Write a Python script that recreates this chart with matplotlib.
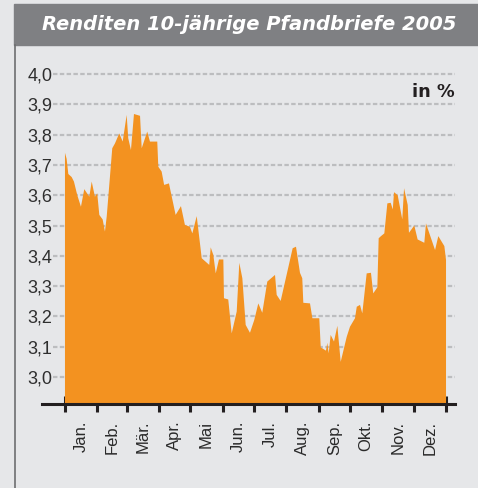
import matplotlib
matplotlib.use("Agg")
import matplotlib.pyplot as plt
from matplotlib.patches import Rectangle
from matplotlib.lines import Line2D

plt.rcParams['lines.scale_dashes'] = False

TITLE = "Renditen 10-jährige Pfandbriefe 2005"
UNIT = "in %"

months = ["Jan.", "Feb.", "Mär.", "Apr.", "Mai", "Jun.", "Jul.", "Aug.",
          "Sep.", "Okt.", "Nov.", "Dez."]
month_starts = [0, 31, 59, 90, 120, 151, 181, 212, 243, 273, 304, 334, 365]
y_ticks = [3.0, 3.1, 3.2, 3.3, 3.4, 3.5, 3.6, 3.7, 3.8, 3.9, 4.0]

# day of year / yield in %
days = [0, 1.6, 3.2, 6.4, 8.6, 11.8, 15.3, 18.5, 23.3, 25.6, 28.7, 30.9,
        32.9, 36.1, 38.3, 40.0, 45.3, 47.9, 52.0, 55.3, 59.1, 60.6, 63.2,
        66.1, 71.9, 73.5, 78.8, 81.4, 88.4, 89.4, 92.6, 95.0, 99.6, 106.0,
        111.1, 114.9, 119.7, 122.0, 126.2, 131.0, 138.2, 139.6, 142.1,
        144.4, 147.5, 151.7, 152.3, 156.4, 159.7, 164.5, 167.0, 169.9,
        173.1, 177.2, 181.3, 185.2, 189.0, 193.8, 201.2, 202.8, 206.6,
        218.1, 221.3, 225.1, 227.3, 228.3, 234.7, 237.0, 243.6, 245.0,
        250.0, 251.3, 252.6, 254.5, 257.7, 260.9, 264.1, 269.9, 273.0,
        277.8, 279.5, 282.6, 284.8, 289.0, 293.1, 295.3, 299.2, 300.5,
        302.7, 305.9, 308.8, 312.0, 314.0, 315.2, 318.7, 323.1, 324.8,
        328.3, 329.5, 334.6, 337.8, 344.2, 345.8, 354.5, 357.6, 363.4, 365]
values = [3.74, 3.72, 3.67, 3.66, 3.645, 3.60, 3.562, 3.62, 3.595, 3.645,
          3.595, 3.606, 3.535, 3.52, 3.48, 3.53, 3.755, 3.771, 3.804, 3.777,
          3.865, 3.788, 3.749, 3.868, 3.862, 3.755, 3.81, 3.777, 3.777,
          3.694, 3.678, 3.634, 3.639, 3.535, 3.564, 3.502, 3.496, 3.474,
          3.531, 3.392, 3.37, 3.428, 3.403, 3.342, 3.388, 3.388, 3.26, 3.256,
          3.144, 3.216, 3.377, 3.326, 3.172, 3.146, 3.188, 3.243, 3.212,
          3.315, 3.337, 3.271, 3.251, 3.425, 3.43, 3.344, 3.326, 3.245,
          3.243, 3.194, 3.194, 3.098, 3.087, 3.113, 3.078, 3.139, 3.117,
          3.169, 3.05, 3.133, 3.166, 3.194, 3.232, 3.238, 3.21, 3.342, 3.344,
          3.276, 3.296, 3.458, 3.465, 3.474, 3.573, 3.575, 3.553, 3.61, 3.60,
          3.52, 3.623, 3.568, 3.476, 3.50, 3.454, 3.443, 3.507, 3.419, 3.465,
          3.432, 3.386]

BG = "#e6e7e9"
ORANGE = "#f39220"
DARK = "#231f20"
NARROW = ["Liberation Sans Narrow", "Liberation Sans", "DejaVu Sans"]

fig = plt.figure(figsize=(4.78, 4.88), dpi=100, facecolor=BG)
W, H = 478, 488

# title bar and left rule
fig.patches.append(Rectangle((14 / W, 1 - 45 / H), 1 - 14 / W, 41 / H,
                             transform=fig.transFigure, color="#7f8083", zorder=0))
fig.text(249 / W, 1 - 24 / H, TITLE, color="white", fontsize=14,
         fontweight="bold", fontstyle="italic", ha="center", va="center",
         family="DejaVu Sans")
fig.lines.append(Line2D([15 / W, 15 / W], [0, 1 - 45 / H], transform=fig.transFigure,
                        color="#6d6e70", lw=1.2))

xmin, xmax = -22.0, 373.6
ymin, ymax = 2.911, 4.05
ax = fig.add_axes([42 / W, 84 / H, 413 / W, (404 - 58.85) / H])
ax.set_facecolor(BG)
ax.set_xlim(xmin, xmax)
ax.set_ylim(ymin, ymax)

ax.hlines(y_ticks, -11.5, xmax, colors="#bcbdbf", lw=1.6,
          linestyles=(0, (3.2, 1.7)), zorder=1)
ax.fill_between(days, values, 2.0, color=ORANGE, lw=0, zorder=2)

for s in ["top", "right", "left"]:
    ax.spines[s].set_visible(False)
ax.spines["bottom"].set_color(DARK)
ax.spines["bottom"].set_linewidth(2.2)
ax.spines["bottom"].set_zorder(3)

ax.set_yticks(y_ticks)
ax.set_yticklabels([f"{v:.1f}".replace(".", ",") for v in y_ticks],
                   family=NARROW, fontsize=13, color="#2e2e2e")
ax.tick_params(axis="y", length=0, pad=-7.4)

ax.set_xticks(month_starts)
ax.set_xticklabels([])
ax.tick_params(axis="x", which="major", direction="inout", length=11,
               width=2.2, color=DARK)
mids = [(month_starts[i] + month_starts[i + 1]) / 2 for i in range(12)]
ax.set_xticks(mids, minor=True)
ax.set_xticklabels(months, minor=True, rotation=90, family=NARROW,
                   fontsize=12, color="#2a2a2a", va="top")
ax.tick_params(axis="x", which="minor", length=0, pad=12)

ax.text(1.0, 1 - (92 - 58.85) / (404 - 58.85), UNIT, transform=ax.transAxes,
        ha="right", va="center", fontsize=12.8, fontweight="bold",
        color=DARK, family="DejaVu Sans")

fig.savefig("out.png", dpi=100, facecolor=BG)
